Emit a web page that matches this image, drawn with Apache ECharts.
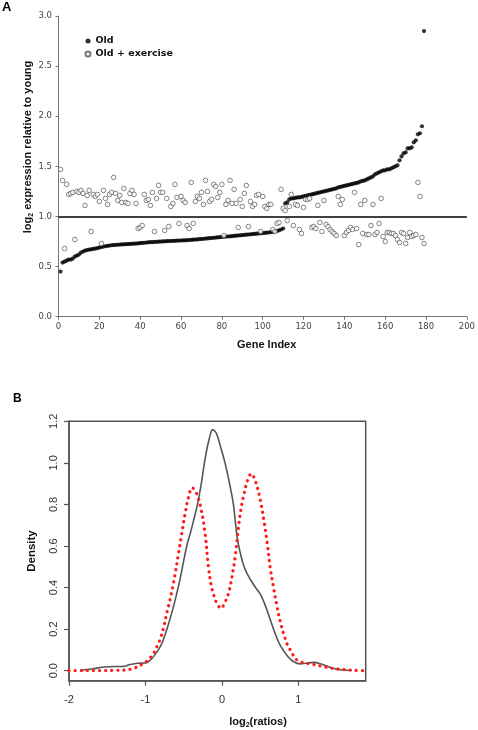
<!DOCTYPE html>
<html><head><meta charset="utf-8">
<script src="https://cdn.jsdelivr.net/npm/echarts@6/dist/echarts.min.js"></script>
<style>html,body{margin:0;padding:0;background:#fff}#c{width:478px;height:730px}</style>
</head><body><div id="c"></div>
<script>
// ---- Panel A: log2 expression relative to young, by gene index (1..179) ----
const oldValues = [
 0.45,0.54,0.55,0.56,0.57,0.57,0.58,0.60,0.61,0.62,
 0.64,0.65,0.66,0.665,0.67,0.672,0.676,0.68,0.684,0.69,
 0.695,0.70,0.703,0.707,0.71,0.713,0.715,0.716,0.718,0.72,
 0.721,0.722,0.724,0.725,0.726,0.727,0.729,0.73,0.732,0.734,
 0.736,0.738,0.74,0.742,0.744,0.745,0.746,0.747,0.749,0.75,
 0.751,0.752,0.753,0.754,0.755,0.756,0.757,0.758,0.759,0.76,
 0.761,0.762,0.763,0.765,0.766,0.768,0.77,0.771,0.773,0.775,
 0.777,0.779,0.781,0.783,0.785,0.787,0.789,0.791,0.793,0.795,
 0.797,0.799,0.80,0.802,0.804,0.806,0.808,0.81,0.812,0.814,
 0.816,0.818,0.82,0.822,0.824,0.826,0.828,0.83,0.832,0.834,
 0.836,0.838,0.84,0.843,0.846,0.85,0.855,0.862,0.87,0.88,
 1.13,1.14,1.17,1.18,1.18,1.185,1.19,1.19,1.195,1.20,
 1.205,1.21,1.215,1.22,1.225,1.23,1.235,1.24,1.245,1.25,
 1.255,1.26,1.265,1.27,1.275,1.28,1.29,1.295,1.30,1.305,
 1.31,1.315,1.32,1.325,1.33,1.335,1.34,1.35,1.355,1.36,
 1.37,1.38,1.39,1.40,1.42,1.43,1.44,1.45,1.46,1.46,
 1.47,1.47,1.48,1.49,1.50,1.51,1.56,1.60,1.63,1.64,
 1.68,1.68,1.69,1.74,1.76,1.82,1.83,1.90,2.85
];
const exerciseValues = [
 1.47,1.36,0.68,1.32,1.22,1.23,1.24,0.77,1.25,1.24,
 1.26,1.23,1.11,1.21,1.26,0.85,1.22,1.20,1.22,1.15,
 0.73,1.26,1.18,1.12,1.22,1.24,1.39,1.23,1.16,1.21,
 1.14,1.28,1.14,1.13,1.23,1.26,1.22,1.13,0.88,0.89,
 0.91,1.22,1.16,1.17,1.11,1.24,0.85,1.18,1.31,1.24,
 1.24,0.86,1.18,0.90,1.10,1.13,1.32,1.19,0.93,1.20,
 1.16,1.14,0.91,0.88,1.34,0.93,1.15,1.20,1.18,1.24,
 1.12,1.36,1.25,1.15,1.17,1.32,1.30,1.19,1.24,1.32,
 0.81,1.12,1.16,1.36,1.13,1.27,1.13,0.89,1.17,1.10,
 1.23,1.31,0.90,1.15,1.10,1.12,1.21,1.22,0.85,1.20,
 1.10,1.08,1.12,1.12,0.87,0.85,0.93,0.94,1.27,1.08,
 1.06,0.96,1.10,1.22,0.91,1.12,1.11,0.87,0.83,1.09,
 1.17,1.17,1.18,0.89,0.90,0.88,1.11,0.94,0.85,1.16,
 0.92,0.90,0.87,0.85,0.83,0.81,1.20,1.12,1.17,0.81,
 0.84,0.86,0.89,0.87,1.24,0.88,0.72,1.12,0.83,1.16,
 0.82,0.82,0.91,1.12,0.82,0.84,0.93,1.18,0.80,0.75,
 0.84,0.84,0.83,0.83,0.81,0.77,0.74,0.84,0.83,0.73,
 0.79,0.84,0.80,0.81,0.82,1.34,1.20,0.79,0.73
];
const refLevel = 1.0;
const xTicksA = [0,20,40,60,80,100,120,140,160,180,200];
const yTicksA = [0.0,0.5,1.0,1.5,2.0,2.5,3.0];

// ---- Panel B: density of log2(ratios) ----
const densXOld = [-1.85,-1.7,-1.55,-1.4,-1.3,-1.2,-1.1,-1.0,-0.94,-0.88,-0.8,-0.72,-0.64,-0.56,-0.46,-0.4,-0.32,-0.27,-0.22,-0.17,-0.12,-0.07,-0.02,0.04,0.1,0.15,0.2,0.25,0.3,0.37,0.44,0.5,0.55,0.6,0.675,0.75,0.8,0.87,0.94,1.02,1.1,1.2,1.3,1.42,1.55,1.7];
const densYOld = [0.002,0.008,0.018,0.02,0.02,0.03,0.036,0.037,0.05,0.075,0.12,0.2,0.3,0.42,0.60,0.68,0.80,0.9,1.02,1.11,1.16,1.14,1.08,1.0,0.9,0.8,0.64,0.55,0.49,0.44,0.40,0.37,0.33,0.28,0.2,0.13,0.10,0.065,0.043,0.033,0.036,0.04,0.032,0.016,0.005,0.001];
const densXEx = [-2.0,-1.8,-1.6,-1.4,-1.26,-1.15,-1.05,-0.97,-0.9,-0.85,-0.8,-0.76,-0.72,-0.68,-0.64,-0.61,-0.57,-0.53,-0.48,-0.44,-0.39,-0.34,-0.28,-0.22,-0.18,-0.14,-0.1,-0.06,-0.013,0.04,0.087,0.13,0.174,0.21,0.245,0.283,0.33,0.383,0.44,0.5,0.55,0.59,0.63,0.68,0.72,0.76,0.805,0.85,0.893,0.94,0.98,1.05,1.11,1.2,1.33,1.45,1.55,1.7,1.88];
const densYEx = [0.0,0.001,0.001,0.002,0.004,0.012,0.03,0.05,0.08,0.116,0.16,0.212,0.28,0.34,0.41,0.47,0.56,0.65,0.76,0.83,0.88,0.86,0.79,0.66,0.51,0.41,0.355,0.32,0.30,0.33,0.373,0.45,0.55,0.67,0.77,0.84,0.91,0.948,0.91,0.824,0.72,0.62,0.50,0.39,0.31,0.24,0.18,0.13,0.10,0.07,0.052,0.04,0.036,0.03,0.019,0.011,0.007,0.003,0.0];
const xTicksB = [-2,-1,0,1];
const yTicksB = [0.0,0.2,0.4,0.6,0.8,1.0,1.2];

const chart = echarts.init(document.getElementById('c'), null, {renderer:'canvas'});
const zip = (xs, ys) => xs.map((x, i) => [x, ys[i]]);
const sansA = 'DejaVu Sans';
const arial = 'Liberation Sans';

chart.setOption({
  animation: false,
  backgroundColor: '#fff',
  grid: [
    {left: 58.5, top: 16, width: 410.5, height: 300.7},
    {left: 69, top: 421.3, width: 296.7, height: 259.4, show: true, borderColor: '#555', borderWidth: 1.5, backgroundColor: 'transparent'}
  ],
  legend: {
    data: ['Old', 'Old + exercise'],
    orient: 'vertical', left: 79.5, top: 31, itemGap: 3,
    itemWidth: 5, itemHeight: 5, icon: 'circle',
    textStyle: {fontFamily: sansA, fontWeight: 'bold', fontSize: 9.5, color: '#111'}
  },
  xAxis: [
    {gridIndex: 0, type: 'value', min: 0, max: 200, interval: 20,
     axisLine: {show: true, onZero: false, lineStyle: {color: '#777', width: 1}},
     axisTick: {show: true, length: 3, lineStyle: {color: '#777'}},
     axisLabel: {fontFamily: sansA, fontSize: 8.5, color: '#444', margin: 6},
     splitLine: {show: false},
     name: 'Gene Index', nameLocation: 'middle', nameGap: 23,
     nameTextStyle: {fontFamily: arial, fontWeight: 'bold', fontSize: 11, color: '#111', padding: [0,0,0,8]}},
    {gridIndex: 1, type: 'value', min: -2, max: 1.88,
     axisLine: {show: true, onZero: false, lineStyle: {color: '#555', width: 1.5}},
     axisTick: {show: true, length: 5, customValues: xTicksB, lineStyle: {color: '#555', width: 1.2}},
     axisLabel: {customValues: xTicksB, fontFamily: arial, fontSize: 11, color: '#333', margin: 14},
     splitLine: {show: false}}
  ],
  yAxis: [
    {gridIndex: 0, type: 'value', min: 0, max: 3, interval: 0.5,
     axisLine: {show: true, onZero: false, lineStyle: {color: '#777', width: 1}},
     axisTick: {show: true, length: 3, lineStyle: {color: '#777'}},
     axisLabel: {fontFamily: sansA, fontSize: 8.5, color: '#444', margin: 6.5, formatter: v => v.toFixed(1)},
     splitLine: {show: false}},
    {gridIndex: 1, type: 'value', min: -0.048, max: 1.2,
     axisLine: {show: true, onZero: false, lineStyle: {color: '#555', width: 1.5}},
     axisTick: {show: true, length: 5, customValues: yTicksB, lineStyle: {color: '#555', width: 1.2}},
     axisLabel: {customValues: yTicksB, rotate: 90, fontFamily: arial, fontSize: 11, color: '#333', margin: 10, formatter: v => v.toFixed(1)},
     splitLine: {show: false},
     name: 'Density', nameLocation: 'middle', nameGap: 31, nameRotate: 90,
     nameTextStyle: {fontFamily: arial, fontWeight: 'bold', fontSize: 11.5, color: '#111'}}
  ],
  series: [
    {name: 'Old', type: 'scatter', xAxisIndex: 0, yAxisIndex: 0,
     data: oldValues.map((v, i) => [i + 1, v]), symbolSize: 4.2,
     itemStyle: {color: '#000'},
     markLine: {silent: true, symbol: ['none', 'none'], label: {show: false},
       lineStyle: {color: '#000', width: 1.5, type: 'solid'},
       data: [{yAxis: refLevel}]}},
    {name: 'Old + exercise', type: 'scatter', xAxisIndex: 0, yAxisIndex: 0,
     data: exerciseValues.map((v, i) => [i + 1, v]), symbolSize: 4.6,
     itemStyle: {color: '#fff', borderColor: '#555', borderWidth: 0.9}},
    {name: 'old density', type: 'line', xAxisIndex: 1, yAxisIndex: 1,
     data: zip(densXOld, densYOld), smooth: 0.35, showSymbol: false,
     lineStyle: {color: '#555', width: 1.6}},
    {name: 'exercise density', type: 'line', xAxisIndex: 1, yAxisIndex: 1,
     data: zip(densXEx, densYEx), smooth: 0.35, showSymbol: false,
     lineStyle: {color: '#ff1a1a', width: 3.2, type: [0.1, 6], cap: 'round'}}
  ],
  graphic: [
    {type: 'text', left: 2, top: 1, style: {text: 'A', font: 'bold 13px "Liberation Sans"', fill: '#000'}},
    {type: 'text', left: 13, top: 393, style: {text: 'B', font: 'bold 12px "Liberation Sans"', fill: '#000'}},
    {type: 'text', x: 28, y: 147, rotation: Math.PI / 2,
     style: {text: 'log{s|2} expression relative to young', x: 0, y: 0, align: 'center', verticalAlign: 'middle',
       font: 'bold 11px "Liberation Sans"', fill: '#111',
       rich: {s: {fontSize: 7, fontWeight: 'bold', fontFamily: arial, padding: [6, 0, 0, 0]}}}},
    {type: 'text', x: 258, y: 722,
     style: {text: 'log{s|2}(ratios)', x: 0, y: 0, align: 'center', verticalAlign: 'middle',
       font: 'bold 11px "Liberation Sans"', fill: '#111',
       rich: {s: {fontSize: 7, fontWeight: 'bold', fontFamily: arial, padding: [6, 0, 0, 0]}}}}
  ]
});
</script>
</body></html>
